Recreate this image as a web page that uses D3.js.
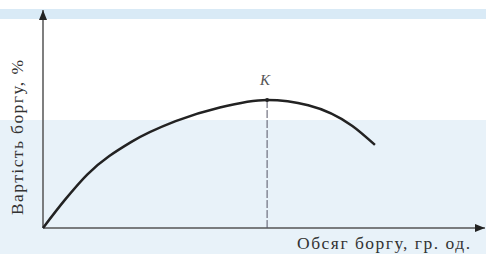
<!DOCTYPE html>
<html><head><meta charset="utf-8">
<script src="https://cdn.jsdelivr.net/npm/d3@7"></script>
<style>body{margin:0;background:#fff}svg{display:block}</style>
</head><body>
<script>
// Data (abstract units: volume 0..100, cost 0..100)
const curveX = [0, 5, 10, 20, 30, 40, 50.7, 60, 70, 75.1];
const curveY = [0, 13, 24.5, 39.5, 49, 55.3, 58.7, 56.3, 46.8, 38.1];
const pointK = {label: "K", x: 50.7, y: 58.7};
const xLabel = "Обсяг боргу, гр. од.";
const yLabel = "Вартість боргу, %";

const W = 486, H = 254;
const svg = d3.select("body").append("svg").attr("width", W).attr("height", H);

// watermark-ish background
const bg = svg.append("g");
bg.append("rect").attr("x",0).attr("y",9).attr("width",W).attr("height",10).attr("fill","#d9eaf6");
bg.append("rect").attr("x",0).attr("y",120).attr("width",W).attr("height",H-120).attr("fill","#e8f2f9");

const x = d3.scaleLinear().domain([0,100]).range([43,485]);
const y = d3.scaleLinear().domain([0,100]).range([228,10]);

const defs = svg.append("defs");
defs.append("marker").attr("id","arr").attr("viewBox","0 0 10 10").attr("refX",10).attr("refY",5)
  .attr("markerWidth",10).attr("markerHeight",12).attr("markerUnits","userSpaceOnUse").attr("orient","auto")
  .append("path").attr("d","M0,1 L10,5 L0,9 Z").attr("fill","#222");

// axes
svg.append("line").attr("x1",x(0)).attr("y1",y(0)).attr("x2",x(0)).attr("y2",y(100))
  .attr("stroke","#555").attr("stroke-width",1.5).attr("marker-end","url(#arr)");
svg.append("line").attr("x1",x(0)).attr("y1",y(0)).attr("x2",x(100)).attr("y2",y(0))
  .attr("stroke","#555").attr("stroke-width",1.5).attr("marker-end","url(#arr)");

// dashed drop line
svg.append("line").attr("x1",x(pointK.x)).attr("x2",x(pointK.x)).attr("y1",y(pointK.y)).attr("y2",y(0))
  .attr("stroke","#556").attr("stroke-width",1).attr("stroke-dasharray","8,2");

// curve
const pts = curveX.map((v,i)=>[v,curveY[i]]);
svg.append("path").datum(pts)
  .attr("d", d3.line().x(d=>x(d[0])).y(d=>y(d[1])).curve(d3.curveMonotoneX))
  .attr("fill","none").attr("stroke","#222").attr("stroke-width",2.5);

svg.append("circle").attr("cx",x(pointK.x)).attr("cy",y(pointK.y)).attr("r",2).attr("fill","#222");
svg.append("text").attr("x",x(pointK.x)-2).attr("y",y(pointK.y)-15).attr("text-anchor","middle")
  .attr("font-family","Liberation Serif").attr("font-style","italic").attr("font-size",15).attr("fill","#555")
  .text(pointK.label);

svg.append("text").attr("x",297).attr("y",249).attr("textLength",173).attr("lengthAdjust","spacing")
  .attr("font-family","Liberation Serif").attr("font-size",17.5).attr("fill","#333").text(xLabel);

svg.append("text").attr("transform","translate(23,215) rotate(-90)").attr("textLength",155).attr("lengthAdjust","spacing")
  .attr("font-family","Liberation Serif").attr("font-size",17.5).attr("fill","#333").text(yLabel);
</script>
</body></html>
